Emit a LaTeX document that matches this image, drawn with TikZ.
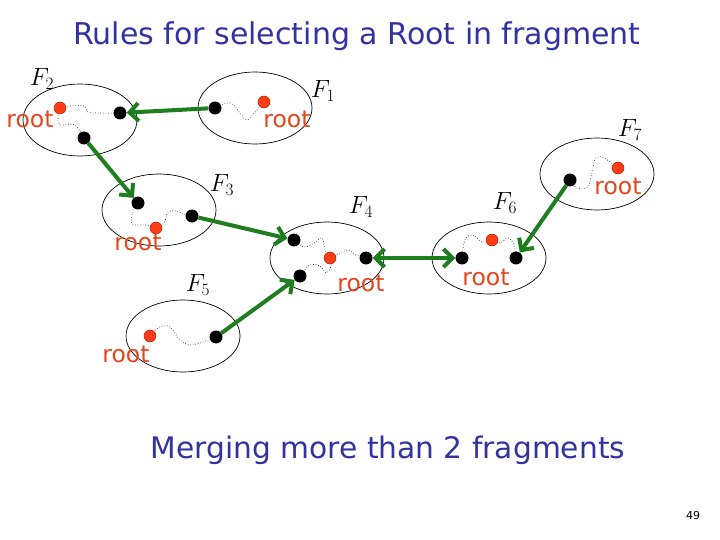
\documentclass[tikz,border=0pt]{standalone}
\usepackage{fontspec}
\setmainfont{DejaVu Sans}
\usetikzlibrary{arrows.meta,shapes.geometric}
\definecolor{titleblue}{RGB}{50,50,160}
\definecolor{dotred}{RGB}{255,60,20}
\definecolor{rootred}{RGB}{228,70,30}
\definecolor{arrowgreen}{RGB}{30,125,30}
\begin{document}
\begin{tikzpicture}[x=1pt,y=-1pt,
  frag/.style={draw, ellipse, line width=0.7pt, minimum width=114pt, minimum height=72pt, inner sep=0pt},
  bdot/.style={circle, fill=black, inner sep=0pt, minimum size=13pt},
  rdot/.style={circle, fill=dotred, draw=dotred!60!black, line width=0.5pt, inner sep=0pt, minimum size=12pt},
  wig/.style={dotted, line width=0.6pt},
  garrow/.style={draw=arrowgreen, line width=4pt, -{Straight Barb[length=9pt,width=18pt]}},
  gdarrow/.style={draw=arrowgreen, line width=4pt, {Straight Barb[length=9pt,width=18pt]}-{Straight Barb[length=9pt,width=18pt]}},
  rootlbl/.style={text=rootred, font=\fontsize{23.5}{26}\selectfont, inner sep=0pt},
  flbl/.style={font=\fontsize{25}{28}\selectfont, inner sep=0pt},
]
\useasboundingbox (0,0) rectangle (720,540);
\fill[white] (0,0) rectangle (720,540);

% title
\node[text=titleblue, font=\fontsize{30}{34}\selectfont] (title) at (357,36) {Rules for selecting a Root in fragment};

% fragments
\node[frag] (F2) at (80,120) {};
\node[frag] (F1) at (255,108) {};
\node[frag] (F3) at (159,210) {};
\node[frag] (F4) at (327,258) {};
\node[frag] (F6) at (489,258) {};
\node[frag] (F7) at (597,174) {};
\node[frag] (F5) at (183,336) {};

% fragment labels
\node[flbl] (l2) at (42,79) {$F_2$};
\node[flbl] (l1) at (323,91) {$F_1$};
\node[flbl] (l3) at (222,185) {$F_3$};
\node[flbl] (l4) at (361,207) {$F_4$};
\node[flbl] (l6) at (505,203) {$F_6$};
\node[flbl] (l7) at (630,130) {$F_7$};
\node[flbl] (l5) at (198,285) {$F_5$};

% dot positions
\coordinate (r2) at (60,108);
\coordinate (b2a) at (120,113);
\coordinate (b2b) at (84,138);
\coordinate (b1) at (215,108);
\coordinate (r1) at (264,102);
\coordinate (b3a) at (138,203);
\coordinate (b3b) at (192,216);
\coordinate (r3) at (156,228);
\coordinate (b4a) at (294,240);
\coordinate (b4b) at (300,276);
\coordinate (b4c) at (366,258);
\coordinate (r4) at (330,258);
\coordinate (b6a) at (462,258);
\coordinate (b6b) at (516,258);
\coordinate (r6) at (492,240);
\coordinate (b7) at (570,180);
\coordinate (r7) at (618,168);
\coordinate (r5) at (150,336);
\coordinate (b5) at (216,337);

% dotted wiggly paths
\draw[wig] plot[smooth, tension=0.6] coordinates {(r2) (70,106) (84,106) (88,112) (100,113) (b2a)};
\draw[wig] plot[smooth, tension=0.6] coordinates {(r2) (58,118) (60,125) (72,124) (78,128) (b2b)};
\draw[wig] plot[smooth, tension=0.6] coordinates {(b1) (230,103) (240,113) (247,120) (256,111) (r1)};
\draw[wig] plot[smooth, tension=0.6] coordinates {(b3a) (133,212) (132,224) (146,225) (r3)};
\draw[wig] plot[smooth, tension=0.6] coordinates {(r3) (164,223) (168,212) (176,211) (183,214) (b3b)};
\draw[wig] plot[smooth, tension=0.6] coordinates {(b4a) (304,247) (314,243) (322,238) (325,250) (r4)};
\draw[wig] plot[smooth, tension=0.6] coordinates {(r4) (340,253) (348,250) (356,255) (b4c)};
\draw[wig] plot[smooth, tension=0.6] coordinates {(b4b) (310,265) (320,266) (326,273) (331,266) (r4)};
\draw[wig] plot[smooth, tension=0.6] coordinates {(b6a) (465,240) (473,235) (482,242) (r6)};
\draw[wig] plot[smooth, tension=0.6] coordinates {(r6) (500,243) (508,238) (514,245) (b6b)};
\draw[wig] plot[smooth, tension=0.6] coordinates {(b7) (577,188) (588,187) (592,172) (596,158) (604,158) (r7)};
\draw[wig] plot[smooth, tension=0.6] coordinates {(r5) (160,327) (170,327) (180,340) (190,345) (200,343) (b5)};

% dots
\node[rdot] (R2) at (r2) {};
\node[bdot] (B2a) at (b2a) {};
\node[bdot] (B2b) at (b2b) {};
\node[bdot] (B1) at (b1) {};
\node[rdot] (R1) at (r1) {};
\node[bdot] (B3a) at (b3a) {};
\node[bdot] (B3b) at (b3b) {};
\node[rdot] (R3) at (r3) {};
\node[bdot] (B4a) at (b4a) {};
\node[bdot] (B4b) at (b4b) {};
\node[bdot] (B4c) at (b4c) {};
\node[rdot] (R4) at (r4) {};
\node[bdot] (B6a) at (b6a) {};
\node[bdot] (B6b) at (b6b) {};
\node[rdot] (R6) at (r6) {};
\node[bdot] (B7) at (b7) {};
\node[rdot] (R7) at (r7) {};
\node[rdot] (R5) at (r5) {};
\node[bdot] (B5) at (b5) {};

% root labels
\node[rootlbl] (t2) at (30,119) {root};
\node[rootlbl] (t1) at (287,119) {root};
\node[rootlbl] (t3) at (138,242) {root};
\node[rootlbl] (t4) at (361,283) {root};
\node[rootlbl] (t6) at (486,277) {root};
\node[rootlbl] (t7) at (618,186) {root};
\node[rootlbl] (t5) at (126,354) {root};

% green arrows
\draw[garrow] (B1) -- (B2a);
\draw[garrow] (B2b) -- (B3a);
\draw[garrow] (B3b) -- (B4a);
\draw[garrow] (B5) -- (B4b);
\draw[gdarrow] (B4c) -- (B6a);
\draw[garrow] (B7) -- (B6b);

% bottom text
\node[text=titleblue, font=\fontsize{29.7}{34}\selectfont] (merge) at (388,450) {Merging more than 2 fragments};
\node[font=\fontsize{11}{13}\selectfont] (pg) at (693,515) {49};
\end{tikzpicture}
\end{document}
